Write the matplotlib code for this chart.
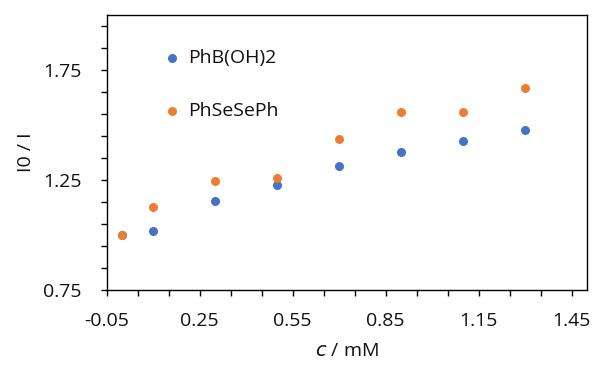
"""Stern-Volmer style plot: I0/I vs concentration for two quenchers."""
import matplotlib
matplotlib.use("Agg")
import matplotlib.pyplot as plt
from matplotlib.ticker import MultipleLocator, FixedLocator

plt.rcParams["font.family"] = ["Open Sans", "DejaVu Sans"]

# concentration (mM)
conc = [0.0, 0.1, 0.3, 0.5, 0.7, 0.9, 1.1, 1.3]
# I0 / I for each quencher
phb_oh2 = [1.0, 1.017, 1.156, 1.226, 1.315, 1.377, 1.426, 1.477]
phsesph = [1.0, 1.126, 1.245, 1.258, 1.436, 1.558, 1.558, 1.668]

x_ticks = [-0.05, 0.25, 0.55, 0.85, 1.15, 1.45]
x_ticklabels = ["-0.05", "0.25", "0.55", "0.85", "1.15", "1.45"]
y_ticks = [0.75, 1.25, 1.75]
y_ticklabels = ["0.75", "1.25", "1.75"]

blue = "#4472C4"
orange = "#ED7D31"
fs = 14

fig = plt.figure(figsize=(5.93, 3.65), dpi=100)
ax = fig.add_axes([0.180, 0.205, 0.810, 0.754])

ax.scatter(conc, phb_oh2, s=42, color=blue, label="PhB(OH)2", zorder=3, linewidths=0)
ax.scatter(conc, phsesph, s=42, color=orange, label="PhSeSePh", zorder=3, linewidths=0)

ax.set_xlim(-0.05, 1.5)
ax.set_ylim(0.75, 2.0)
ax.xaxis.set_major_locator(FixedLocator(x_ticks))
ax.set_xticklabels(x_ticklabels)
ax.xaxis.set_minor_locator(MultipleLocator(0.1, offset=-0.05))
ax.yaxis.set_major_locator(FixedLocator(y_ticks))
ax.set_yticklabels(y_ticklabels)
ax.yaxis.set_minor_locator(MultipleLocator(0.1, offset=0.05))

ax.tick_params(which="both", direction="out", width=1.0, length=4,
               color="black", labelsize=fs, labelcolor="#111111")
ax.tick_params(axis="x", pad=12)
ax.tick_params(axis="y", pad=14)
for sp in ax.spines.values():
    sp.set_linewidth(1.0)
    sp.set_color("black")

ax.set_xlabel("$\\it{c}$ / mM", fontsize=fs, labelpad=8, color="#111111")
ax.set_ylabel("I0 / I", fontsize=fs, labelpad=6, color="#111111")

ax.legend(loc="upper left", bbox_to_anchor=(0.121, 0.875), frameon=False,
          fontsize=fs, handlelength=0.75, handletextpad=0.45, labelspacing=1.8,
          borderpad=0, borderaxespad=0, scatterpoints=1, labelcolor="#111111")

fig.savefig("out.png", dpi=100)
